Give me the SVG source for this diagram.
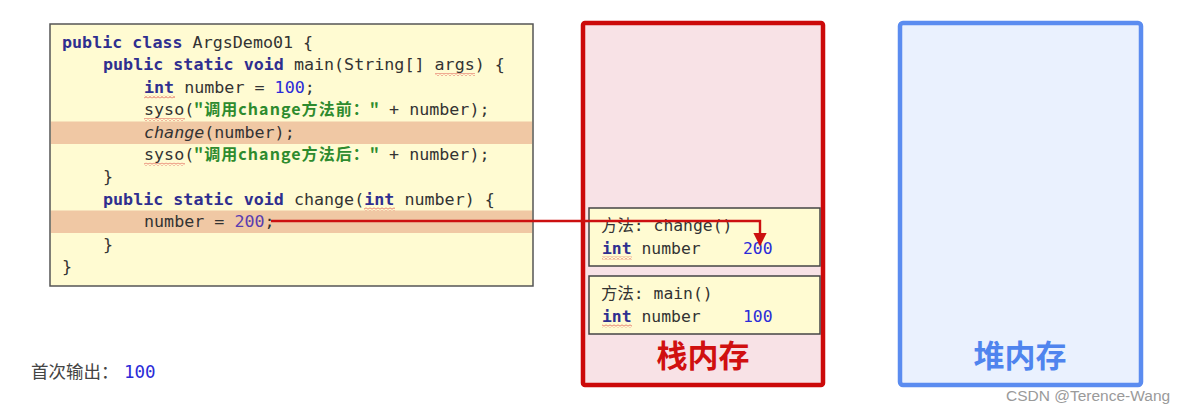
<svg xmlns="http://www.w3.org/2000/svg" width="1184" height="414" viewBox="0 0 1184 414">
<style>
.code{font-family:"DejaVu Sans Mono","Liberation Mono","Noto Sans CJK SC",monospace;font-size:16.7px;fill:#333;white-space:pre}
.fr{font-family:"DejaVu Sans Mono","Liberation Mono","Noto Sans CJK SC",monospace;font-size:16.4px;fill:#333;white-space:pre}
.kw{fill:#2f2f8f;font-weight:bold}
.num{fill:#2b2bd8}
.num2{fill:#5a3cb0}
.str{font-family:"Noto Sans CJK SC","Noto Sans",sans-serif;font-size:16px;font-weight:bold;fill:#2e8b2e}
.it{font-style:italic}
.wave{fill:url(#wave)}
.big{font-family:"Noto Sans CJK SC",sans-serif;font-size:31px;font-weight:bold;text-anchor:middle}
</style>
<defs>
<pattern id="wave" patternUnits="userSpaceOnUse" width="4" height="3">
<path d="M0,2.5 L2,0.5 L4,2.5" stroke="#d83030" stroke-width="0.8" fill="none"/>
</pattern>
<marker id="arr" viewBox="0 0 10 10" refX="9" refY="5" markerWidth="5.5" markerHeight="5.5" orient="auto">
<path d="M0,0 L10,5 L0,10 z" fill="#cc1010"/>
</marker>
</defs>
<rect width="1184" height="414" fill="#ffffff"/>

<g id="code">
<rect x="50" y="24" width="483" height="262" fill="#fffbd2" stroke="#555" stroke-width="1.5"/>
<rect x="51" y="121.5" width="481" height="22.5" fill="#f0c8a4"/>
<rect x="51" y="210.5" width="481" height="22.5" fill="#f0c8a4"/>
<text class="code" x="62" y="48"><tspan class="kw">public class</tspan> ArgsDemo01 {</text>
<text class="code" x="103" y="70.4"><tspan class="kw">public static void</tspan> main(String[] args) {</text>
<rect class="wave" x="435" y="73" width="40" height="3"/>
<text class="code" x="144" y="92.8"><tspan class="kw">int</tspan> number = <tspan class="num">100</tspan>;</text>
<rect class="wave" x="144" y="95.5" width="31" height="3"/>
<text class="code" x="144" y="115.2">syso(</text>
<rect class="wave" x="144" y="118" width="41" height="3"/>
<text class="str" x="194" y="115.2" textLength="185" lengthAdjust="spacing">"调用change方法前："</text>
<text class="code" x="379" y="115.2"> + number);</text>
<text class="code" x="144" y="137.6"><tspan class="it">change</tspan>(number);</text>
<text class="code" x="144" y="160">syso(</text>
<rect class="wave" x="144" y="162.8" width="41" height="3"/>
<text class="str" x="194" y="160" textLength="185" lengthAdjust="spacing">"调用change方法后："</text>
<text class="code" x="379" y="160"> + number);</text>
<text class="code" x="103" y="182.4">}</text>
<text class="code" x="103" y="204.8"><tspan class="kw">public static void</tspan> change(<tspan class="kw">int</tspan> number) {</text>
<rect class="wave" x="364" y="207.5" width="31" height="3"/>
<text class="code" x="144" y="227.2">number = <tspan class="num2">200</tspan>;</text>
<text class="code" x="103" y="249.6">}</text>
<text class="code" x="62" y="272">}</text>
</g>

<g id="stack">
<rect x="583" y="23" width="240" height="362" rx="2" fill="#f8e2e6" stroke="#cc0a0a" stroke-width="4.5"/>
<text class="big" x="703" y="367" fill="#d01010">栈内存</text>
</g>

<g id="frame-change">
<rect x="589" y="208" width="231" height="58" fill="#fffbd2" stroke="#444" stroke-width="1.5"/>
<text class="fr" x="601" y="231">方法: change()</text>
<text class="fr" x="602" y="254"><tspan class="kw">int</tspan> number</text>
<rect class="wave" x="602" y="256.5" width="30" height="3"/>
<text class="fr num" x="743" y="254">200</text>
</g>

<g id="frame-main">
<rect x="589" y="276" width="231" height="58" fill="#fffbd2" stroke="#444" stroke-width="1.5"/>
<text class="fr" x="601" y="299">方法: main()</text>
<text class="fr" x="602" y="322"><tspan class="kw">int</tspan> number</text>
<rect class="wave" x="602" y="324.5" width="30" height="3"/>
<text class="fr num" x="743" y="322">100</text>
</g>

<g id="heap">
<rect x="900" y="23" width="241" height="362" rx="3" fill="#eaf1fe" stroke="#5b8cf0" stroke-width="4.5"/>
<text class="big" x="1020" y="367" fill="#4f84ee">堆内存</text>
</g>

<g id="output">
<text x="31" y="378" font-family="Noto Sans CJK SC,sans-serif" font-size="17.5" fill="#444">首次输出：<tspan x="124" font-family="DejaVu Sans Mono,monospace" fill="#2b2bd8" font-size="17.5">100</tspan></text>
</g>

<g id="connectors">
<path d="M271,221 H760 V245" fill="none" stroke="#cc1010" stroke-width="2.4" marker-end="url(#arr)"/>
</g>

<text x="1006" y="401" font-family="Liberation Sans,Arial,sans-serif" font-size="15.5" fill="#9a9a9a">CSDN @Terence-Wang</text>
</svg>
